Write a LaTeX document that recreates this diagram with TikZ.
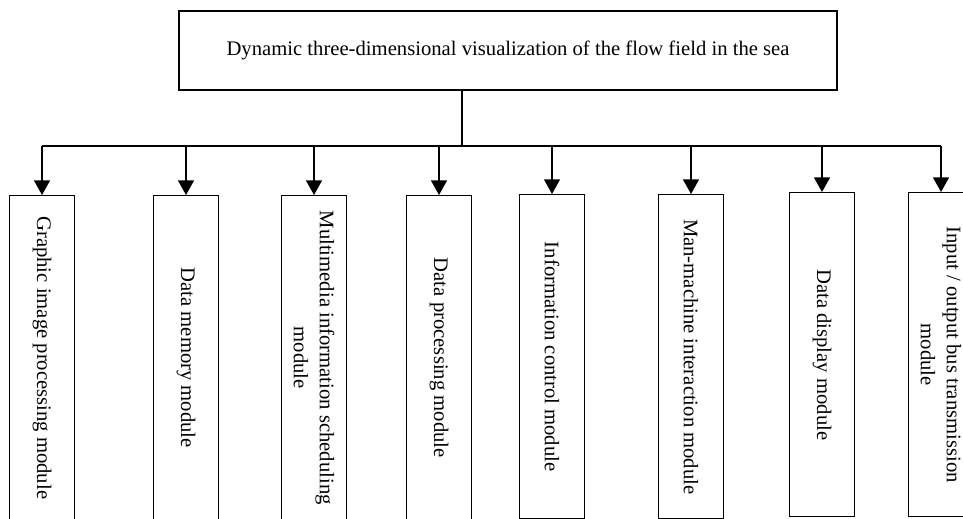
\documentclass[tikz,border=0pt]{standalone}
\usepackage{fontspec}
\setmainfont{Liberation Serif}
\usepackage{tikz}
\usetikzlibrary{arrows.meta,positioning,calc}

\begin{document}
\begin{tikzpicture}[
  x=0.75pt, y=-0.75pt,
  line width=1.1pt,
  font=\fontsize{15.5}{19.5}\selectfont,
  topbox/.style={
    draw,
    minimum width=493.5pt,
    minimum height=59.25pt
    },
  modbox/.style={
    draw,
    rotate=-90,
    anchor=west,
    align=center,
    minimum width=243pt,
    minimum height=48.5pt,
    inner sep=2pt
    },
  tip/.style={-{Triangle[width=12pt,length=11pt]}}
]
\useasboundingbox (0,0) rectangle (963,518);

\node[topbox] (top) at (508,50.5)
  {Dynamic three-dimensional visualization of the flow field in the sea};

\coordinate (bus) at (462,146);

% modules, top edge at the given point
\node[modbox] (m1) at (42,195)  {Graphic image processing module};
\node[modbox] (m2) at (186,195) {Data memory module};
\node[modbox] (m3) at (314,195) {Multimedia information scheduling\\module};
\node[modbox] (m4) at (439,195) {Data processing module};
\node[modbox] (m5) at (552,194) {Information control module};
\node[modbox] (m6) at (691,194) {Man-machine interaction module};
\node[modbox] (m7) at (822,192) {Data display module};
\node[modbox] (m8) at (941,192) {Input / output bus transmission\\module};

\draw (top.south -| bus) -- (bus);
\draw (m1.west |- bus) -- (m8.west |- bus);
\foreach \Mod in {1,...,8}
  \draw[tip] (m\Mod.west |- bus) -- (m\Mod.west);
\end{tikzpicture}
\end{document}
